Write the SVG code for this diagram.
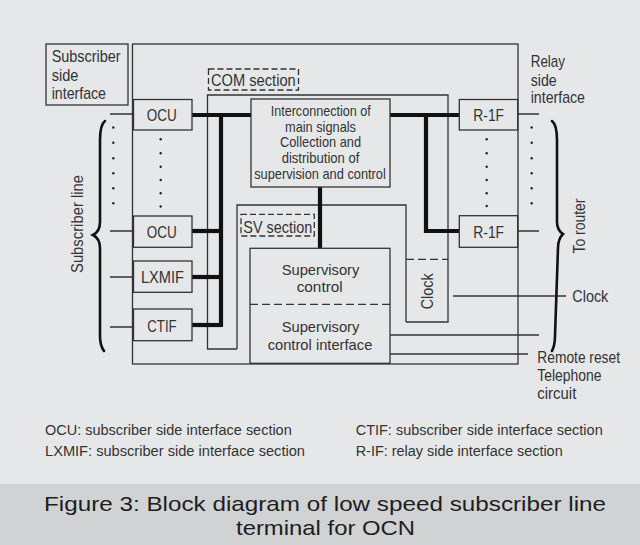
<svg xmlns="http://www.w3.org/2000/svg" width="640" height="545" viewBox="0 0 640 545">
<style>
text{font-family:"Liberation Sans",Arial,sans-serif;fill:#333;}
.t17{font-size:17px;}
.t16{font-size:15px;}
.t15{font-size:15px;}
.lg{font-size:15.5px;}
.cap{font-size:21px;fill:#1e1e1e;}
.m{text-anchor:middle;}
.box{fill:none;stroke:#333;stroke-width:1.3;}
.ln{fill:none;stroke:#333;stroke-width:1.3;}
.thick{fill:none;stroke:#111;stroke-width:4.2;}
.dash{fill:none;stroke:#333;stroke-width:1.3;stroke-dasharray:8 4;}
.dbox{fill:none;stroke:#333;stroke-width:1.3;stroke-dasharray:6 3;}
.dot{fill:#222;}
.brace{fill:none;stroke:#111;stroke-width:2.6;stroke-linecap:round;}
</style>
<rect x="0" y="0" width="640" height="545" fill="#e6e7e9"/>
<rect x="0" y="484" width="640" height="61" fill="#d1d2d4"/>

<g id="connectors">
  <rect class="box" x="132.5" y="44" width="385.5" height="320"/>
  <path class="ln" d="M237,349 H207.5 V95 H448 V322 H406"/>
  <path class="ln" d="M237,349 V205 H406 V322"/>
  <path class="thick" d="M192,115 H251"/>
  <path class="thick" d="M221,115 V327"/>
  <path class="thick" d="M192,231 H221"/>
  <path class="thick" d="M192,277 H221"/>
  <path class="thick" d="M192,325 H221"/>
  <path class="thick" d="M320,187 V248"/>
  <path class="thick" d="M390,115 H459"/>
  <path class="thick" d="M426,115 V231 H459"/>
  <path class="ln" d="M110,114 H133 M110,231 H133 M110,277 H133 M110,327 H133"/>
  <path class="ln" d="M518,114 H539 M518,231 H539"/>
  <path class="ln" d="M453,296 H566"/>
  <path class="ln" d="M390,335 H539 M390,354 H528"/>
  <path class="brace" d="M105,121 C101,124 100,130 100,140 L100,222 C100,229 97,233 93,235 C97,237 100,241 100,248 L100,336 C100,343 101,347 104,351"/>
  <path class="brace" d="M552,121 C556,124 557,130 557,140 L557,222 C557,229 560,232 563,234 C560,237 558,241 558,248 L555,336 C555,343 554,347 552,351"/>
  <g class="dot">
    <circle cx="113.3" cy="127.5" r="1.2"/><circle cx="113.3" cy="142.8" r="1.2"/><circle cx="113.3" cy="158.3" r="1.2"/><circle cx="113.3" cy="173.3" r="1.2"/><circle cx="113.3" cy="188.3" r="1.2"/><circle cx="113.3" cy="203.3" r="1.2"/>
    <circle cx="160.7" cy="139.3" r="1.2"/><circle cx="160.7" cy="153.3" r="1.2"/><circle cx="160.7" cy="166.7" r="1.2"/><circle cx="160.7" cy="180" r="1.2"/><circle cx="160.7" cy="193.3" r="1.2"/><circle cx="160.7" cy="206.5" r="1.2"/>
    <circle cx="486.7" cy="139.3" r="1.2"/><circle cx="486.7" cy="153.3" r="1.2"/><circle cx="486.7" cy="166.7" r="1.2"/><circle cx="486.7" cy="180" r="1.2"/><circle cx="486.7" cy="193.3" r="1.2"/><circle cx="486.7" cy="206" r="1.2"/>
    <circle cx="531.7" cy="127.5" r="1.2"/><circle cx="531.7" cy="142.8" r="1.2"/><circle cx="531.7" cy="158.3" r="1.2"/><circle cx="531.7" cy="173.3" r="1.2"/><circle cx="531.7" cy="188.3" r="1.2"/><circle cx="531.7" cy="203.3" r="1.2"/>
  </g>
</g>

<g id="subscriber-side-interface">
  <rect class="box" x="46" y="44" width="82" height="61"/>
  <text class="t17" x="51.7" y="62" textLength="69" lengthAdjust="spacingAndGlyphs">Subscriber</text>
  <text class="t17" x="51.7" y="80.7" textLength="26.7" lengthAdjust="spacingAndGlyphs">side</text>
  <text class="t17" x="51.7" y="99" textLength="54.3" lengthAdjust="spacingAndGlyphs">interface</text>
</g>

<g id="subscriber-line-label">
  <text class="t17 m" transform="translate(83,224) rotate(-90)" textLength="98" lengthAdjust="spacingAndGlyphs">Subscriber line</text>
</g>

<g id="ocu1">
  <rect class="box" x="133.5" y="99.5" width="58.5" height="30.5"/>
  <text class="t17 m" x="161.7" y="121" textLength="30" lengthAdjust="spacingAndGlyphs">OCU</text>
</g>
<g id="ocu2">
  <rect class="box" x="133.5" y="216" width="58.5" height="31.3"/>
  <text class="t17 m" x="161.7" y="237.7" textLength="30" lengthAdjust="spacingAndGlyphs">OCU</text>
</g>
<g id="lxmif">
  <rect class="box" x="133.5" y="261" width="58.5" height="31.3"/>
  <text class="t17 m" x="162.5" y="283.3" textLength="43" lengthAdjust="spacingAndGlyphs">LXMIF</text>
</g>
<g id="ctif">
  <rect class="box" x="133.5" y="309" width="58.5" height="31.7"/>
  <text class="t17 m" x="162" y="332.3" textLength="29.3" lengthAdjust="spacingAndGlyphs">CTIF</text>
</g>

<g id="com-section">
  <rect class="dbox" x="208.5" y="69" width="90" height="21"/>
  <text class="t17" x="211" y="86" textLength="84.7" lengthAdjust="spacingAndGlyphs">COM section</text>
</g>

<g id="interconnection">
  <rect class="box" x="251" y="99" width="139" height="88"/>
  <text class="t15 m" x="320.7" y="115.7" textLength="100" lengthAdjust="spacingAndGlyphs">Interconnection of</text>
  <text class="t15 m" x="320.5" y="131.7" textLength="71" lengthAdjust="spacingAndGlyphs">main signals</text>
  <text class="t15 m" x="320.5" y="147.3" textLength="81" lengthAdjust="spacingAndGlyphs">Collection and</text>
  <text class="t15 m" x="320.5" y="163.3" textLength="77.7" lengthAdjust="spacingAndGlyphs">distribution of</text>
  <text class="t15 m" x="320" y="179.3" textLength="131.7" lengthAdjust="spacingAndGlyphs">supervision and control</text>
</g>

<g id="sv-section">
  <rect class="dbox" x="241" y="214.3" width="73.3" height="21.7"/>
  <text class="t17" x="243.3" y="233" textLength="69" lengthAdjust="spacingAndGlyphs">SV section</text>
</g>

<g id="supervisory">
  <rect class="box" x="250" y="248.3" width="140" height="115"/>
  <path class="dash" d="M250,304.3 H390"/>
  <text class="t16 m" x="320.5" y="274.5" textLength="77.7" lengthAdjust="spacingAndGlyphs">Supervisory</text>
  <text class="t16 m" x="319.7" y="292" textLength="46" lengthAdjust="spacingAndGlyphs">control</text>
  <text class="t16 m" x="320.5" y="332.3" textLength="77.7" lengthAdjust="spacingAndGlyphs">Supervisory</text>
  <text class="t16 m" x="320" y="349.8" textLength="104.7" lengthAdjust="spacingAndGlyphs">control interface</text>
</g>

<g id="clock-box">
  <path class="dash" d="M406,259.3 H448"/>
  <text class="t17 m" transform="translate(433,291.3) rotate(-90)" textLength="36" lengthAdjust="spacingAndGlyphs">Clock</text>
</g>

<g id="r1f1">
  <rect class="box" x="459.3" y="99.5" width="58.4" height="30.5"/>
  <text class="t17 m" x="488.7" y="121" textLength="30.7" lengthAdjust="spacingAndGlyphs">R-1F</text>
</g>
<g id="r1f2">
  <rect class="box" x="459.3" y="215.7" width="58.4" height="31.6"/>
  <text class="t17 m" x="488.7" y="238.3" textLength="30.7" lengthAdjust="spacingAndGlyphs">R-1F</text>
</g>

<g id="relay-side-interface">
  <text class="t17" x="530.7" y="67.3" textLength="34.3" lengthAdjust="spacingAndGlyphs">Relay</text>
  <text class="t17" x="530.7" y="85.7" textLength="26" lengthAdjust="spacingAndGlyphs">side</text>
  <text class="t17" x="530.7" y="103.3" textLength="54.3" lengthAdjust="spacingAndGlyphs">interface</text>
</g>

<g id="to-router-label">
  <text class="t17 m" transform="translate(585,226) rotate(-90)" textLength="55" lengthAdjust="spacingAndGlyphs">To router</text>
</g>

<g id="clock-label">
  <text class="t17" x="572.3" y="301.7" textLength="36" lengthAdjust="spacingAndGlyphs">Clock</text>
</g>

<g id="remote-labels">
  <text class="t17" x="537.3" y="362.7" textLength="82.7" lengthAdjust="spacingAndGlyphs">Remote reset</text>
  <text class="t17" x="537.3" y="381" textLength="64.3" lengthAdjust="spacingAndGlyphs">Telephone</text>
  <text class="t17" x="537.3" y="398.6" textLength="39" lengthAdjust="spacingAndGlyphs">circuit</text>
</g>

<g id="legend">
  <text class="lg" x="45" y="435" textLength="246.7" lengthAdjust="spacingAndGlyphs">OCU: subscriber side interface section</text>
  <text class="lg" x="45" y="455.7" textLength="260" lengthAdjust="spacingAndGlyphs">LXMIF: subscriber side interface section</text>
  <text class="lg" x="355.7" y="435" textLength="247" lengthAdjust="spacingAndGlyphs">CTIF: subscriber side interface section</text>
  <text class="lg" x="355.7" y="455.7" textLength="207" lengthAdjust="spacingAndGlyphs">R-IF: relay side interface section</text>
</g>

<g id="caption">
  <text class="cap m" x="325" y="510.5" textLength="562" lengthAdjust="spacingAndGlyphs">Figure 3: Block diagram of low speed subscriber line</text>
  <text class="cap m" x="325.5" y="534.5" textLength="179" lengthAdjust="spacingAndGlyphs">terminal for OCN</text>
</g>
</svg>
